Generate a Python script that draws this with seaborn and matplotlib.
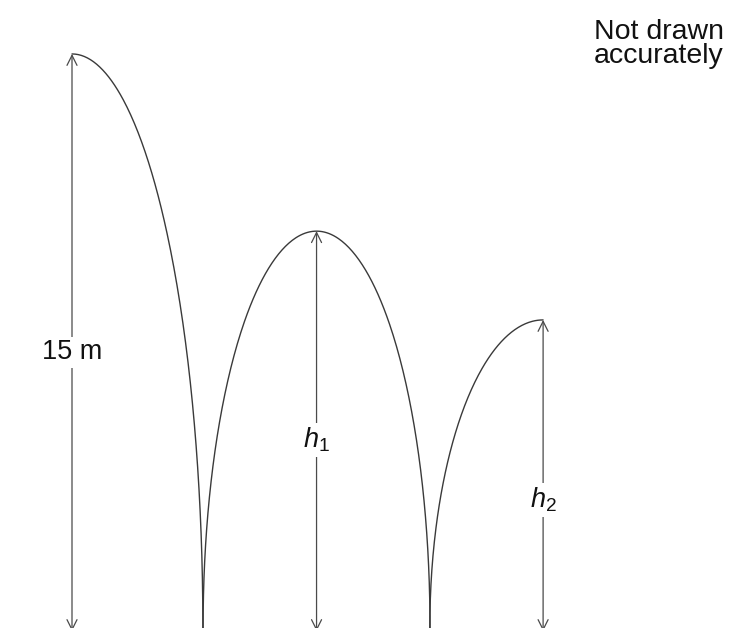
import numpy as np
import pandas as pd
import seaborn as sns
import matplotlib.pyplot as plt

# Bouncing ball diagram (not drawn accurately)
# horizontal positions in metres, measured from the drop point
peak_x = [0.0, 6.39, 12.31]
peak_h = [15.0, 10.37, 8.05]
bounce_x = [3.42, 9.35]
labels = ["15 m", "$h_1$", "$h_2$"]
label_y = [7.2, 4.91, 3.34]
note = "Not drawn\naccurately"

sns.set_style("white")
plt.rcParams["font.family"] = ["Liberation Sans", "DejaVu Sans"]
plt.rcParams["mathtext.fontset"] = "custom"
plt.rcParams["mathtext.rm"] = "Liberation Sans"
plt.rcParams["mathtext.it"] = "Liberation Sans:italic"

fig = plt.figure(figsize=(7.3, 6.28), dpi=100)
ax = fig.add_axes([0, 0, 1, 1])

# each arc is a piece of an ellipse: peak -> ground (vertical at the bounce)
starts = [peak_x[0] - (bounce_x[0] - peak_x[0]), bounce_x[0], bounce_x[1]]
ends = [bounce_x[0], bounce_x[1], peak_x[2] + (peak_x[2] - bounce_x[1])]
frames = []
for i in range(3):
    a = (ends[i] - starts[i]) / 2
    t = np.linspace(-np.pi / 2, np.pi / 2, 300)
    if i == 0:
        t = np.linspace(0, np.pi / 2, 200)
    if i == 2:
        t = np.linspace(-np.pi / 2, 0, 200)
    xs = peak_x[i] + a * np.sin(t)
    ys = peak_h[i] * np.cos(t)
    frames.append(pd.DataFrame({"x": xs, "y": ys, "arc": i}))
arcs = pd.concat(frames)

sns.lineplot(data=arcs, x="x", y="y", units="arc", estimator=None,
             sort=False, color="#3a3a3a", lw=1.0, ax=ax)

# height arrows with the labels sitting on them
for x, h, lab, ly in zip(peak_x, peak_h, labels, label_y):
    ax.annotate("", xy=(x, h), xytext=(x, -0.08),
                arrowprops=dict(arrowstyle="<->", lw=0.9, color="#4a4a4a",
                                shrinkA=0, shrinkB=0, mutation_scale=18))
    ax.text(x, ly, lab, ha="center", va="center", fontsize=19.5, color="#111111",
            bbox=dict(facecolor="white", edgecolor="none", pad=2))

# note in the top right corner
fig.text(594 / 730, 1 - 19 / 628, note, ha="left", va="top", fontsize=20.5,
         color="#111111", linespacing=0.92)

# keep 1 m = ~38.3 px so the picture lines up with the reference
scale = 38.27
ax.set_xlim(-72 / scale, (730 - 72) / scale)
ax.set_ylim(0, 628 / scale)
ax.axis("off")

fig.savefig("out.png", dpi=100)
